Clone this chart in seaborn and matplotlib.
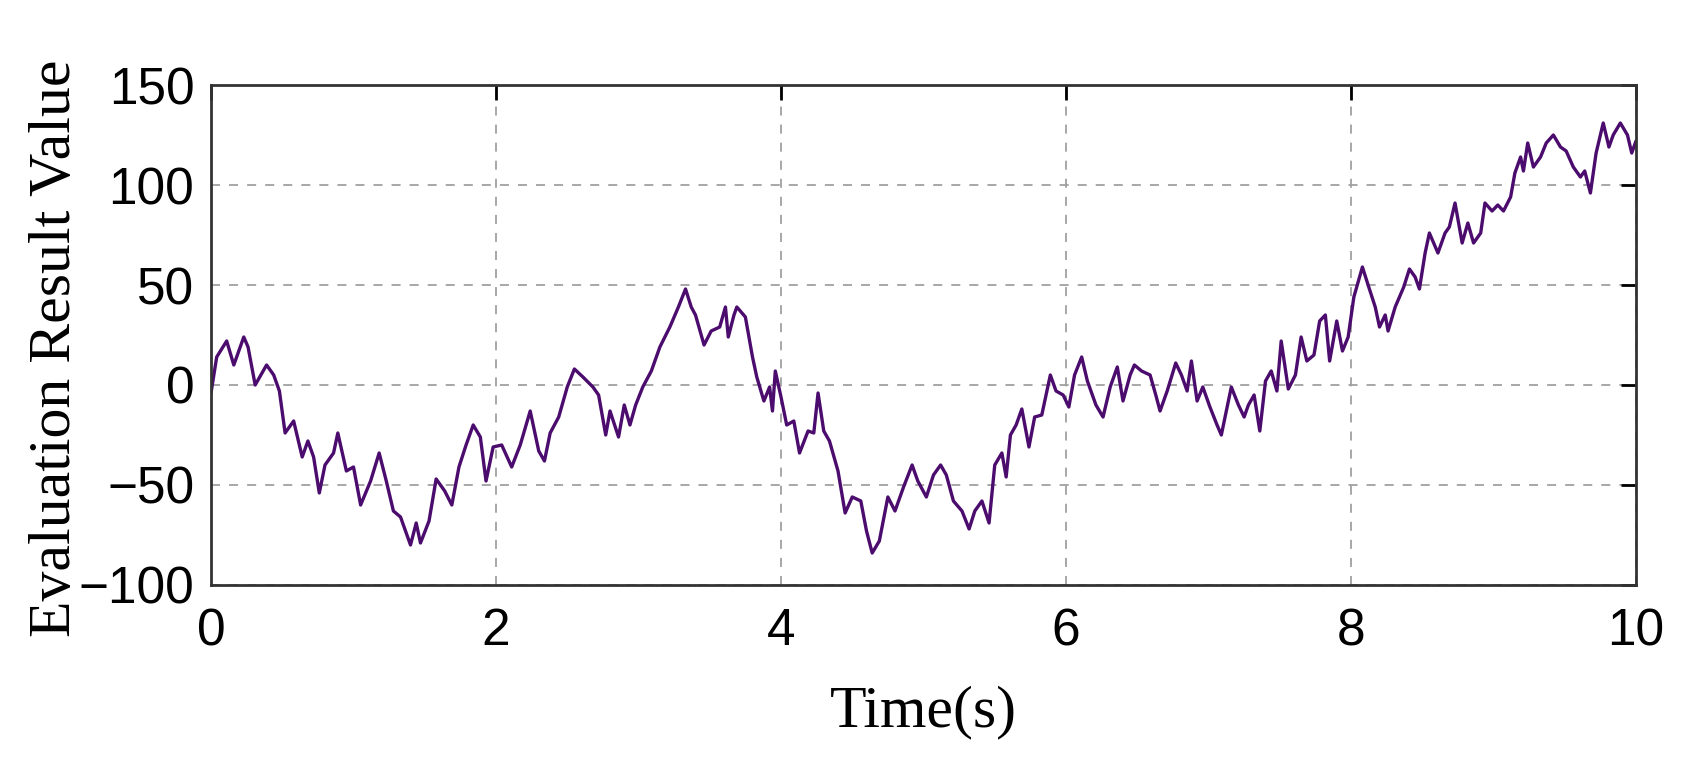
import numpy as np
import pandas as pd
import matplotlib
matplotlib.use("Agg")
import matplotlib.pyplot as plt
import seaborn as sns

# values, segment by segment
time_a = [0.00, 0.04, 0.11, 0.16, 0.23, 0.26, 0.31, 0.39, 0.44, 0.48,
          0.52, 0.58, 0.64, 0.68, 0.72, 0.76, 0.80, 0.86, 0.89, 0.95,
          1.00, 1.05, 1.12, 1.18, 1.23, 1.28, 1.33, 1.40, 1.44, 1.47,
          1.53, 1.58, 1.64, 1.69, 1.74, 1.79, 1.84, 1.89, 1.93, 1.98,
          2.04, 2.11, 2.17, 2.24, 2.30, 2.34, 2.38, 2.44]
value_a = [-4, 14, 22, 10, 24, 19, 0, 10, 5, -3,
           -24, -18, -36, -28, -36, -54, -40, -34, -24, -43,
           -41, -60, -48, -34, -48, -63, -66, -80, -69, -79,
           -68, -47, -53, -60, -41, -30, -20, -26, -48, -31,
           -30, -41, -30, -13, -33, -38, -24, -16]

time_b = [2.50, 2.55, 2.61, 2.68, 2.72, 2.77, 2.80, 2.86, 2.90, 2.94,
          2.98, 3.03, 3.09, 3.15, 3.22, 3.28, 3.33, 3.37, 3.40, 3.46,
          3.51, 3.57, 3.61, 3.63, 3.67, 3.69, 3.75, 3.80, 3.83, 3.88,
          3.92, 3.94, 3.96, 4.00, 4.04, 4.09, 4.13, 4.19, 4.23, 4.26,
          4.30, 4.34, 4.40, 4.45, 4.50, 4.56, 4.60, 4.64, 4.69, 4.75,
          4.80, 4.86, 4.92, 4.96, 5.02, 5.07, 5.12]
value_b = [-1, 8, 4, -1, -5, -25, -13, -26, -10, -20,
           -10, -1, 7, 19, 29, 39, 48, 39, 35, 20,
           27, 29, 39, 24, 35, 39, 34, 14, 4, -8,
           -1, -13, 7, -6, -20, -18, -34, -23, -24, -4,
           -23, -28, -43, -64, -56, -58, -73, -84, -78, -56,
           -63, -51, -40, -48, -56, -45, -40]

time_c = [5.16, 5.21, 5.27, 5.32, 5.36, 5.41, 5.46, 5.50, 5.55, 5.58,
          5.61, 5.65, 5.69, 5.74, 5.78, 5.83, 5.89, 5.93, 5.98, 6.02,
          6.06, 6.11, 6.15, 6.21, 6.26, 6.31, 6.36, 6.40, 6.45, 6.48,
          6.53, 6.59, 6.63, 6.66, 6.71, 6.77, 6.81, 6.85, 6.88, 6.92,
          6.96, 7.01, 7.06, 7.09, 7.16, 7.21, 7.25, 7.28, 7.32, 7.36,
          7.40, 7.44, 7.48]
value_c = [-45, -58, -63, -72, -63, -58, -69, -40, -34, -46,
           -25, -20, -12, -31, -16, -15, 5, -3, -5, -11,
           5, 14, 2, -10, -16, -1, 9, -8, 5, 10,
           7, 5, -5, -13, -3, 11, 5, -3, 12, -8,
           -1, -11, -20, -25, -1, -10, -16, -10, -5, -23,
           2, 7, -3]

time_d = [7.51, 7.56, 7.61, 7.65, 7.69, 7.74, 7.78, 7.82, 7.85, 7.90,
          7.94, 7.98, 8.02, 8.08, 8.12, 8.17, 8.20, 8.24, 8.26, 8.31,
          8.37, 8.41, 8.45, 8.48, 8.52, 8.55, 8.61, 8.66, 8.69, 8.73,
          8.78, 8.82, 8.86, 8.91, 8.94, 8.99, 9.03, 9.07, 9.12, 9.15,
          9.19, 9.21, 9.24, 9.28, 9.33, 9.37, 9.42, 9.47, 9.51, 9.56,
          9.61, 9.64, 9.68, 9.72, 9.77, 9.81, 9.84, 9.89, 9.94, 9.97,
          10.0]
value_d = [22, -2, 5, 24, 12, 15, 32, 35, 12, 32,
           17, 24, 44, 59, 50, 39, 29, 35, 27, 39,
           49, 58, 54, 48, 66, 76, 66, 76, 79, 91,
           71, 81, 71, 76, 91, 87, 90, 87, 94, 106,
           114, 107, 121, 109, 114, 121, 125, 119, 117, 109,
           104, 107, 96, 116, 131, 119, 125, 131, 125, 116,
           122]

x_ticks = [0, 2, 4, 6, 8, 10]
y_ticks = [-100, -50, 0, 50, 100, 150]

df = pd.DataFrame({
    "time": time_a + time_b + time_c + time_d,
    "value": value_a + value_b + value_c + value_d,
})

sns.set_style("white")
plt.rcParams["font.family"] = ["Liberation Sans", "DejaVu Sans"]

fig = plt.figure(figsize=(16.88, 7.68), dpi=100)
ax = fig.add_axes([0.125, 0.2383, 0.8442, 0.651])

sns.lineplot(data=df, x="time", y="value", ax=ax, color="#4b0c6e",
             linewidth=2.4, sort=False)

ax.set_xlim(0, 10)
ax.set_ylim(-100, 150)
ax.set_xticks(x_ticks)
ax.set_yticks(y_ticks)
ax.set_xticklabels([str(t) for t in x_ticks])
ax.set_yticklabels([str(t).replace("-", "\u2212") for t in y_ticks])

ax.grid(True, color="#a0a0a0", linestyle=(0, (5, 5)), linewidth=1.3)
ax.tick_params(direction="in", length=11, width=2, top=True, right=True,
               labelsize=37, colors="black")
ax.tick_params(axis="x", pad=16)
ax.tick_params(axis="y", pad=12)
for side in ax.spines.values():
    side.set_color("#333333")
    side.set_linewidth(2)

ax.set_xlabel("Time(s)", fontsize=43, family="Liberation Serif", color="black")
ax.set_ylabel("Evaluation Result Value", fontsize=43,
              family="Liberation Serif", color="black")
ax.xaxis.set_label_coords(0.5, -0.2)
ax.yaxis.set_label_coords(-0.09, 0.474)

fig.savefig("out.png", dpi=100)
